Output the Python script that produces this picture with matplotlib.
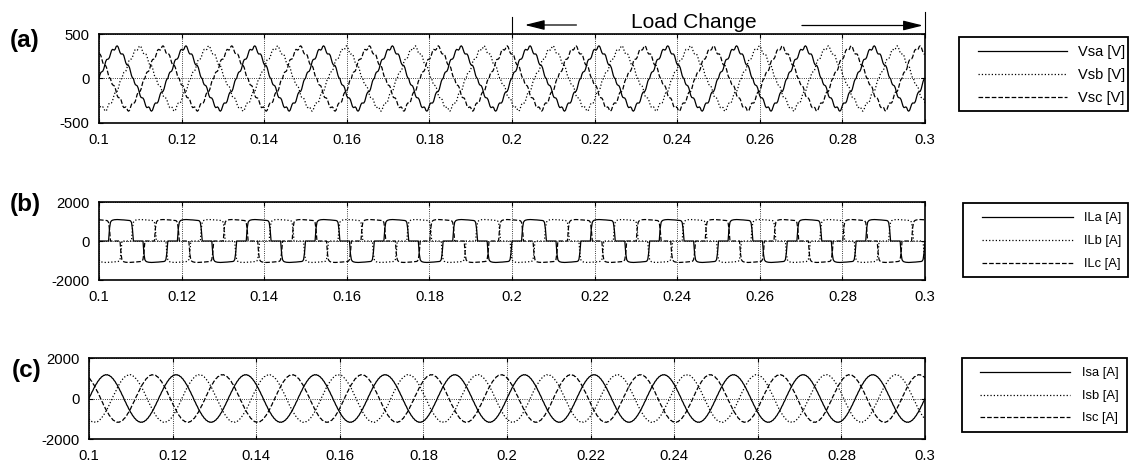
import numpy as np
import matplotlib
matplotlib.use("Agg")
import matplotlib.pyplot as plt
from matplotlib import transforms
from matplotlib.lines import Line2D
from matplotlib.patches import Rectangle
from matplotlib.ticker import FormatStrFormatter

plt.rcParams['font.family'] = ['Liberation Sans', 'DejaVu Sans']
plt.rcParams['axes.unicode_minus'] = False

W, H = 1129, 465

# simulation window: 60 Hz supply, 12 cycles from 0.1 s to 0.3 s
t_start, t_end = 0.1, 0.3
n_cycles = 12
load_change = [0.2, 0.3]

# phase-a waveforms over the first half cycle, 5 deg per sample
# (second half cycle is the negative of the first)
vsa_half = [0, 43, 69, 76, 83, 108, 150, 191, 213, 217, 220, 239,
            276, 311, 327, 324, 319, 331, 360, 367, 355, 324, 291, 275,
            276, 275, 256, 217, 177, 155, 150, 144, 119, 76, 33, 7]
ila_half = [0, 0, 0, 0, 0, 0, 0, 0, 0, 0, 0, 650,
            960, 1035, 1065, 1080, 1090, 1095, 1100, 1100, 1100, 1095, 1090, 1090,
            1085, 1085, 1080, 1075, 1075, 1070, 1065, 1060, 1050, 1030, 950, 600]
isa_half = [0, 115, 195, 315, 392, 506, 577, 683, 744, 839, 888, 970,
            1005, 1072, 1091, 1142, 1144, 1178, 1162, 1178, 1144, 1142, 1091, 1072,
            1005, 970, 888, 839, 744, 683, 577, 506, 392, 315, 195, 115]

v_labels = ['Vsa [V]', 'Vsb [V]', 'Vsc [V]']
il_labels = ['ILa [A]', 'ILb [A]', 'ILc [A]']
is_labels = ['Isa [A]', 'Isb [A]', 'Isc [A]']

x_ticks = [0.1, 0.12, 0.14, 0.16, 0.18, 0.2, 0.22, 0.24, 0.26, 0.28, 0.3]
v_ticks = [-500, 0, 500]
i_ticks = [-2000, 0, 2000]

styles = ['-', ':', '--']


def three_phase(half):
    a = np.concatenate([np.asarray(half, float), -np.asarray(half, float)])
    shift = len(a) // 3
    phases = [a, np.roll(a, shift), np.roll(a, 2 * shift)]
    return [np.append(np.tile(p, n_cycles), p[0]) for p in phases]


def fx(px):
    return px / W


def fy(py):
    return 1 - py / H


fig = plt.figure(figsize=(W / 100, H / 100), dpi=100)

# axes rectangles in pixels: left, top, right, bottom
boxes = [(99, 34, 925, 123), (99, 202, 925, 280), (89, 358, 925, 439)]
panels = [(three_phase(vsa_half), v_ticks), (three_phase(ila_half), i_ticks),
          (three_phase(isa_half), i_ticks)]
axes = []
for (l, tp, r, b), (waves, yt) in zip(boxes, panels):
    ax = fig.add_axes([fx(l), fy(b), fx(r) - fx(l), fy(tp) - fy(b)])
    t = np.linspace(t_start, t_end, len(waves[0]))
    for w, ls in zip(waves, styles):
        ax.plot(t, w, color='black', lw=0.9, ls=ls)
    ax.set_xlim(t_start, t_end)
    ax.set_ylim(yt[0], yt[-1])
    ax.set_xticks(x_ticks)
    ax.set_yticks(yt)
    ax.xaxis.set_major_formatter(FormatStrFormatter('%g'))
    ax.grid(True, color='black', ls=':', lw=0.6)
    ax.tick_params(direction='in', length=3, top=True, right=True,
                   labelsize=10.7, pad=7)
    for s in ax.spines.values():
        s.set_linewidth(1.2)
    axes.append(ax)

# panel tags
for tag, (px, py) in zip(['(a)', '(b)', '(c)'], [(25, 40), (25, 204), (27, 370)]):
    fig.text(fx(px), fy(py), tag, fontsize=17.5, fontweight='bold',
             ha='center', va='center')

# load change markers above panel (a)
ax = axes[0]
tr = transforms.blended_transform_factory(ax.transData, fig.transFigure)
for x0, ytop in zip(load_change, [17, 12]):
    ax.plot([x0, x0], [fy(34), fy(ytop)], color='black', lw=0.8,
            transform=tr, clip_on=False)
arrow = dict(arrowstyle='-|>,head_length=1.2,head_width=0.3',
             color='black', lw=0.9, shrinkA=0, shrinkB=0)
ax.annotate('', xy=(0.2031, fy(25)), xytext=(0.2156, fy(25)),
            xycoords=tr, textcoords=tr, arrowprops=arrow)
ax.annotate('', xy=(0.2995, fy(25.5)), xytext=(0.2702, fy(25.5)),
            xycoords=tr, textcoords=tr, arrowprops=arrow)
ax.text(0.2441, fy(23), 'Load Change', transform=tr, fontsize=15,
        ha='center', va='center')


def legend_box(frame, rows, labels, line_x, text_x, size):
    x0, y0, x1, y1 = frame
    fig.add_artist(Rectangle((fx(x0), fy(y1)), fx(x1) - fx(x0), fy(y0) - fy(y1),
                             transform=fig.transFigure, fill=False,
                             ec='black', lw=1.3))
    for y, lab, ls in zip(rows, labels, styles):
        fig.add_artist(Line2D([fx(line_x[0]), fx(line_x[1])], [fy(y), fy(y)],
                              transform=fig.transFigure, color='black',
                              lw=0.9, ls=ls))
        fig.text(fx(text_x), fy(y + 1), lab, fontsize=size,
                 ha='left', va='center')


legend_box((959, 37, 1128, 111), [51, 74, 97], v_labels, (978, 1067), 1078, 10.5)
legend_box((963, 203, 1128, 277), [217, 240, 263], il_labels, (982, 1073), 1084, 9.3)
legend_box((962, 358, 1127, 432), [372, 395, 417], is_labels, (980, 1070), 1082, 9.3)

fig.savefig('out.png', dpi=100)
